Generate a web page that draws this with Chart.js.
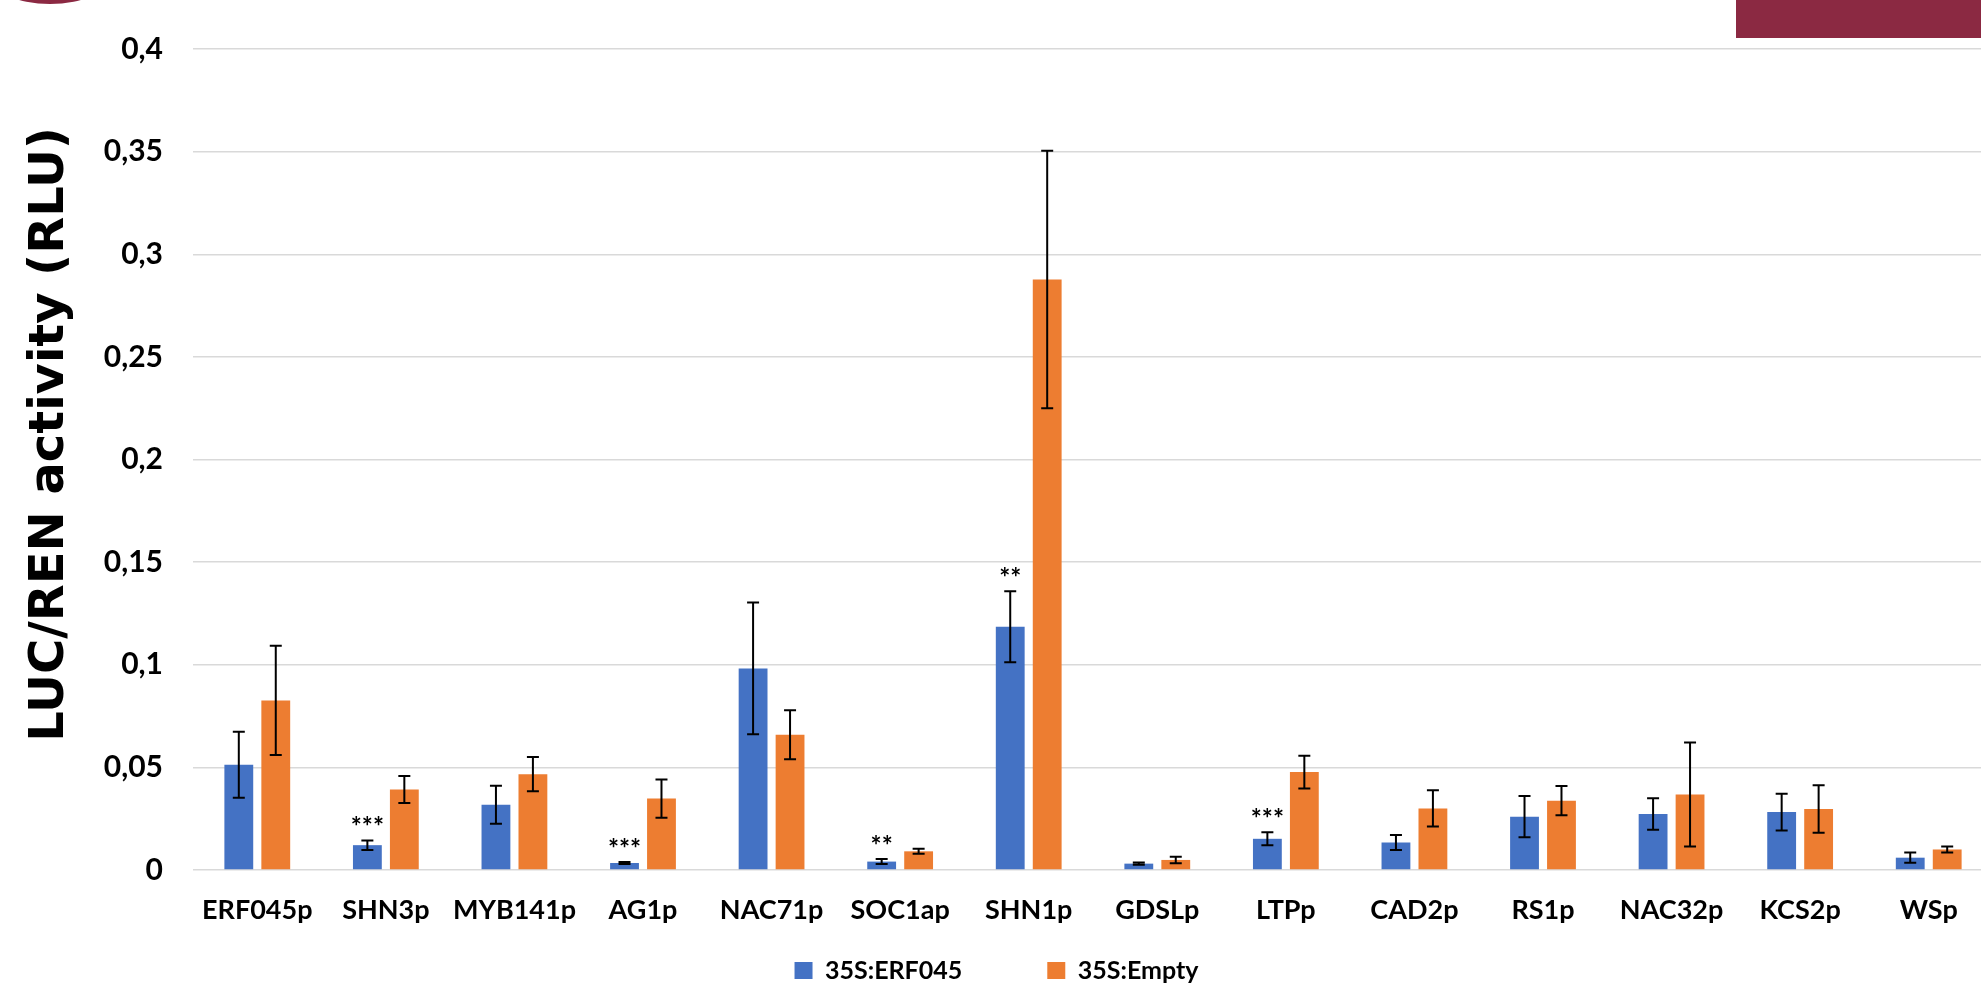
<!DOCTYPE html>
<html>
<head>
<meta charset="utf-8">
<script src="https://cdn.jsdelivr.net/npm/chart.js@4.4.1/dist/chart.umd.min.js"></script>
<style>
  html, body { margin: 0; padding: 0; background: #fff; overflow: hidden; width: 1981px; height: 987px; }
  #wrap { position: absolute; left: 0; top: 0; width: 2034px; height: 993px; }
  .deco { position: absolute; background: #8b2942; }
</style>
</head>
<body>
<div id="wrap"><canvas id="grafico" width="2034" height="993"></canvas></div>
<div class="deco" style="left:1736px;top:0;width:245px;height:38px"></div>
<div class="deco" style="left:-71px;top:-238px;width:242px;height:242px;border-radius:50%"></div>
<script>
//DATOS//
const promotores = ["ERF045p", "SHN3p", "MYB141p", "AG1p", "NAC71p", "SOC1ap", "SHN1p", "GDSLp", "LTPp", "CAD2p", "RS1p", "NAC32p", "KCS2p", "WSp"]

const erf045 = [0.0513, 0.0121, 0.0318, 0.0034, 0.0982, 0.0041, 0.1185, 0.0031, 0.0152, 0.0134, 0.0260, 0.0273, 0.0282, 0.0060]
const erf045Err = [0.0161, 0.0023, 0.0093, 0.0005, 0.0321, 0.0012, 0.0173, 0.0006, 0.0032, 0.0036, 0.0100, 0.0077, 0.0089, 0.0025]

const vacio = [0.0826, 0.0392, 0.0467, 0.0348, 0.0659, 0.0091, 0.2877, 0.0049, 0.0477, 0.0300, 0.0338, 0.0368, 0.0297, 0.0100]
const vacioErr = [0.0266, 0.0066, 0.0083, 0.0093, 0.0119, 0.0012, 0.0627, 0.0016, 0.0080, 0.0088, 0.0071, 0.0253, 0.0116, 0.0015]

// asteriscos de significancia sobre las barras azules
const signif = ["", "***", "", "***", "", "**", "**", "", "***", "", "", "", "", ""]

const yTickLabels = ["0", "0,05", "0,1", "0,15", "0,2", "0,25", "0,3", "0,35", "0,4"]

const FUENTE = "Lato"

//PLUGIN BARRAS DE ERROR + ASTERISCOS//
const barrasError = {
  id: "barrasError",
  afterDatasetsDraw(chart) {
    const ctx = chart.ctx
    const y = chart.scales.y
    ctx.save()
    chart.data.datasets.forEach((ds, i) => {
      const meta = chart.getDatasetMeta(i)
      meta.data.forEach((bar, j) => {
        const v = ds.data[j]
        const e = ds.errores[j]
        const top = y.getPixelForValue(v + e)
        const bot = y.getPixelForValue(v - e)
        ctx.strokeStyle = "#000"
        ctx.lineWidth = 2
        ctx.beginPath()
        ctx.moveTo(bar.x, top); ctx.lineTo(bar.x, bot)
        ctx.moveTo(bar.x - 6, top); ctx.lineTo(bar.x + 6, top)
        ctx.moveTo(bar.x - 6, bot); ctx.lineTo(bar.x + 6, bot)
        ctx.stroke()
        if (ds.signif && ds.signif[j]) {
          ctx.fillStyle = "#000"
          ctx.font = "bold 26px " + FUENTE
          ctx.textAlign = "center"
          ctx.textBaseline = "alphabetic"
          ctx.fillText(ds.signif[j], bar.x, top - 4)
        }
      })
    })
    ctx.restore()
  }
}

function renderGrafico() {
  const graficoX = document.getElementById("grafico")
  new Chart(graficoX, {
    type: "bar",
    data: {
      labels: promotores,
      datasets: [{
        label: "35S:ERF045",
        data: erf045,
        errores: erf045Err,
        signif: signif,
        backgroundColor: "#4472c4",
        barPercentage: 0.78,
        categoryPercentage: 0.575
      }, {
        label: "35S:Empty",
        data: vacio,
        errores: vacioErr,
        backgroundColor: "#ed7d31",
        barPercentage: 0.78,
        categoryPercentage: 0.575
      }]
    },
    options: {
      responsive: false,
      animation: false,
      layout: { padding: { left: 0, right: 41, top: 49, bottom: 0 } },
      plugins: {
        tooltip: { enabled: false },
        legend: {
          position: "bottom",
          labels: {
            boxWidth: 18,
            boxHeight: 17,
            padding: 10,
            color: "#000",
            font: { family: FUENTE, size: 25, weight: "bold" },
            generateLabels(chart) {
              const items = Chart.defaults.plugins.legend.labels.generateLabels(chart)
              // hueco grande entre las dos entradas de la leyenda
              items[0].text = items[0].text + "\u2003\u2003\u2003\u2003"
              items.forEach(it => { it.lineWidth = 0 })
              return items
            }
          }
        }
      },
      scales: {
        x: {
          grid: { display: false, drawTicks: false },
          border: { display: false },
          ticks: {
            color: "#000",
            padding: 24,
            maxRotation: 0,
            autoSkip: false,
            font: { family: FUENTE, size: 27, weight: "bold" }
          },
          afterFit(scale) { scale.height = 78 }
        },
        y: {
          min: 0,
          max: 0.4,
          border: { display: false },
          grid: { color: "#d9d9d9", lineWidth: 1.5, drawTicks: false },
          ticks: {
            stepSize: 0.05,
            padding: 30,
            color: "#000",
            font: { family: FUENTE, size: 30, weight: "bold" },
            callback: (v, i) => yTickLabels[i]
          },
          title: {
            display: true,
            // espacios al inicio para subir un poco el titulo como en el original
            text: "\u00a0\u00a0\u00a0LUC/REN activity (RLU)",
            color: "#000",
            font: { family: "DejaVu Sans", size: 48, weight: "bold", lineHeight: 1.2 },
            padding: { top: 22, bottom: 0 }
          },
          afterFit(scale) { scale.width = 193 }
        }
      }
    },
    plugins: [barrasError]
  })
}

document.fonts.load("bold 24px " + FUENTE).then(renderGrafico, renderGrafico)
</script>
</body>
</html>
